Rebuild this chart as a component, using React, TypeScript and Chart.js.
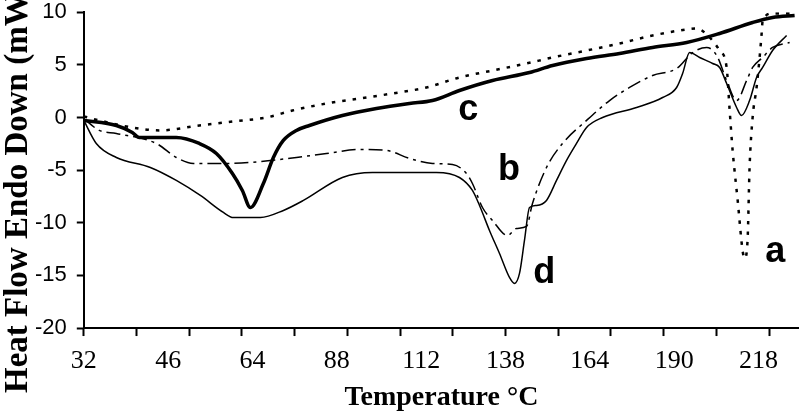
import React, { useEffect, useRef } from 'react';
import { Chart, registerables } from 'chart.js';

Chart.register(...registerables);

// Category-style temperature labels (evenly spaced along the axis)
const xLabels = ['32', '46', '64', '88', '112', '138', '164', '190', '218'];
const yMin = -20;
const yMax = 10;
const yStep = 5;
const xMax = 8.48;
const tickMarkStep = 0.625; // minor tick marks between labels

const xTitle = 'Temperature °C';
const yTitle = 'Heat Flow Endo Down (mW)';

// Curve a (dotted)
const aX = [0, 0.184, 0.575, 0.896, 1.37, 1.762, 2.165, 2.473, 2.877, 3.268, 3.66, 4.063, 4.454, 4.846, 5.249, 5.558, 5.961, 6.353, 6.744, 7.148, 7.266, 7.42, 7.539, 7.622, 7.658, 7.693, 7.753, 7.811, 7.835, 7.87, 7.894, 7.93, 7.977, 8.013, 8.037, 8.049, 8.167, 8.404];
const aY = [0.1, -0.28, -0.95, -1.23, -0.76, -0.38, 0, 0.66, 1.33, 1.8, 2.28, 2.85, 3.8, 4.46, 5.13, 5.7, 6.36, 7.03, 7.79, 8.36, 8.45, 7.6, 6.36, 4.75, 0.66, -3.13, -7.88, -12.63, -13.39, -11.68, -4.75, 0, 2.85, 5.7, 7.98, 9.21, 9.88, 9.88];

// Curve b (dash-dot)
const bX = [0, 0.184, 0.386, 0.86, 1.097, 1.299, 1.655, 1.975, 2.521, 2.877, 3.268, 3.589, 3.861, 4.134, 4.371, 4.537, 4.608, 4.727, 4.846, 5.024, 5.13, 5.249, 5.32, 5.486, 5.676, 5.961, 6.234, 6.471, 6.744, 7.029, 7.219, 7.385, 7.504, 7.622, 7.74, 7.859, 7.93, 8.049, 8.167, 8.369];
const bY = [-0.1, -1.23, -1.52, -2.47, -3.8, -4.37, -4.37, -4.27, -3.8, -3.42, -3.04, -3.13, -3.89, -4.37, -4.46, -5.32, -6.27, -8.55, -9.78, -11.21, -10.54, -10.35, -8.17, -4.75, -2.47, -0.28, 1.61, 2.85, 3.99, 4.65, 6.17, 6.65, 5.89, 3.51, 1.61, 3.51, 4.75, 5.7, 6.65, 7.12];

// Curve c (thick solid)
const cX = [0, 0.386, 0.575, 0.658, 1.097, 1.37, 1.572, 1.762, 1.88, 1.975, 2.129, 2.248, 2.366, 2.521, 2.675, 3.066, 3.47, 3.861, 4.134, 4.454, 4.846, 5.285, 5.558, 5.961, 6.353, 6.744, 7.148, 7.539, 7.93, 8.167, 8.428];
const cY = [-0.28, -0.76, -1.42, -1.9, -1.9, -2.47, -3.42, -5.32, -6.93, -8.55, -6.27, -3.8, -2.18, -1.23, -0.76, 0.19, 0.85, 1.33, 1.61, 2.56, 3.51, 4.27, 4.94, 5.6, 6.08, 6.65, 7.12, 7.98, 9.02, 9.5, 9.69];

// Curve d (thin solid)
const dX = [0, 0.148, 0.386, 0.789, 1.097, 1.382, 1.655, 1.773, 2.094, 2.367, 2.604, 3.066, 3.422, 4.181, 4.454, 4.608, 4.692, 4.81, 4.929, 5.047, 5.107, 5.166, 5.225, 5.285, 5.368, 5.486, 5.605, 5.724, 5.842, 5.961, 6.151, 6.554, 6.863, 7.029, 7.1, 7.183, 7.302, 7.456, 7.539, 7.622, 7.74, 7.799, 7.894, 7.977, 8.049, 8.167, 8.333];
const dY = [-0.28, -2.47, -3.8, -4.75, -5.98, -7.41, -9.02, -9.5, -9.5, -8.83, -7.88, -5.7, -5.22, -5.22, -5.7, -6.93, -8.36, -10.73, -12.92, -15.19, -15.76, -14.81, -11.68, -8.55, -8.36, -7.88, -5.98, -4.08, -2.47, -0.95, 0, 0.95, 1.9, 2.85, 4.18, 6.17, 5.7, 5.13, 4.75, 3.23, 0.95, 0.19, 1.61, 3.8, 4.75, 6.36, 7.79];

// Curve letters, anchored in data coordinates
const letterText = ['c', 'b', 'd', 'a'];
const letterX = [4.44, 4.91, 5.33, 8.08];
const letterY = [-0.28, -5.98, -15.76, -13.77];

const pts = (xs: number[], ys: number[]) => xs.map((x, i) => ({ x, y: ys[i] }));

const isMark = (v: number) => Math.abs(v / tickMarkStep - Math.round(v / tickMarkStep)) < 1e-6;

const buildXTicks = () => {
  const set = new Set<number>();
  for (let v = 0; v <= xMax + 1e-9; v += tickMarkStep) set.add(Math.round(v * 1000) / 1000);
  for (let i = 0; i < xLabels.length; i++) set.add(i);
  return Array.from(set).sort((p, q) => p - q);
};

const overlayPlugin = {
  id: 'overlayText',
  afterDatasetsDraw(chart: any) {
    const { ctx, scales, chartArea } = chart;
    const x = scales.x;
    const y = scales.y;
    ctx.save();
    ctx.fillStyle = '#000';
    ctx.font = 'bold 36px "Liberation Sans", Arial, sans-serif';
    ctx.textAlign = 'left';
    ctx.textBaseline = 'alphabetic';
    letterText.forEach((t, i) => {
      ctx.fillText(t, x.getPixelForValue(letterX[i]), y.getPixelForValue(letterY[i]));
    });
    ctx.restore();

    ctx.save();
    ctx.fillStyle = '#000';
    ctx.font = 'bold 33px "Liberation Serif", "Times New Roman", serif';
    ctx.translate(chartArea.left - 57, chartArea.bottom + 65);
    ctx.rotate(-Math.PI / 2);
    ctx.textAlign = 'left';
    ctx.textBaseline = 'alphabetic';
    ctx.fillText(yTitle, 0, 0);
    ctx.restore();
  },
};

export default function App() {
  const canvasRef = useRef<HTMLCanvasElement | null>(null);

  useEffect(() => {
    document.body.style.margin = '0';
    const canvas = canvasRef.current;
    if (!canvas) return;
    const xTickValues = buildXTicks();

    const chart = new Chart(canvas, {
      type: 'line',
      data: {
        datasets: [
          {
            label: 'a',
            data: pts(aX, aY),
            borderColor: '#000',
            borderWidth: 2.5,
            borderDash: [3.5, 7],
            pointRadius: 0,
            cubicInterpolationMode: 'monotone',
          },
          {
            label: 'b',
            data: pts(bX, bY),
            borderColor: '#000',
            borderWidth: 1.5,
            borderDash: [14, 5, 3, 5],
            pointRadius: 0,
            cubicInterpolationMode: 'monotone',
          },
          {
            label: 'c',
            data: pts(cX, cY),
            borderColor: '#000',
            borderWidth: 3.5,
            pointRadius: 0,
            cubicInterpolationMode: 'monotone',
          },
          {
            label: 'd',
            data: pts(dX, dY),
            borderColor: '#000',
            borderWidth: 1.5,
            pointRadius: 0,
            cubicInterpolationMode: 'monotone',
          },
        ],
      },
      options: {
        responsive: false,
        animation: false,
        devicePixelRatio: 1,
        layout: { padding: { left: 25, top: 12, right: 0, bottom: 0 } },
        plugins: {
          legend: { display: false },
          tooltip: { enabled: false },
        },
        scales: {
          x: {
            type: 'linear',
            min: 0,
            max: xMax,
            afterBuildTicks: (axis: any) => {
              axis.ticks = xTickValues.map((v) => ({ value: v }));
            },
            ticks: {
              autoSkip: false,
              maxRotation: 0,
              padding: 9.4,
              color: '#000',
              font: { family: '"Liberation Serif", "Times New Roman", serif', size: 26, lineHeight: 1.2 },
              callback: (v: any) => (Number.isInteger(v) && xLabels[v] !== undefined ? xLabels[v] : ''),
            },
            grid: {
              drawOnChartArea: false,
              tickLength: 8,
              tickWidth: 2,
              tickColor: (ctx: any) => (ctx.tick && isMark(ctx.tick.value) ? '#000' : 'rgba(0,0,0,0)'),
            },
            border: { color: '#000', width: 2 },
            title: {
              display: true,
              text: xTitle,
              color: '#000',
              font: { family: '"Liberation Serif", "Times New Roman", serif', size: 28, weight: 'bold', lineHeight: 0.82 },
              padding: { top: 0, bottom: 4 },
            },
          },
          y: {
            type: 'linear',
            min: yMin,
            max: yMax,
            ticks: {
              stepSize: yStep,
              padding: 10,
              color: '#000',
              font: { family: '"Liberation Sans", Arial, sans-serif', size: 22, lineHeight: 0.2 },
            },
            grid: {
              drawOnChartArea: false,
              tickLength: 7,
              tickWidth: 2,
              tickColor: '#000',
            },
            border: { color: '#000', width: 2 },
          },
        },
      },
      plugins: [overlayPlugin],
    } as any);

    return () => chart.destroy();
  }, []);

  return (
    <div style={{ width: 799, height: 413, background: '#fff' }}>
      <canvas ref={canvasRef} width={799} height={413} style={{ display: 'block', width: 799, height: 413 }} />
    </div>
  );
}
